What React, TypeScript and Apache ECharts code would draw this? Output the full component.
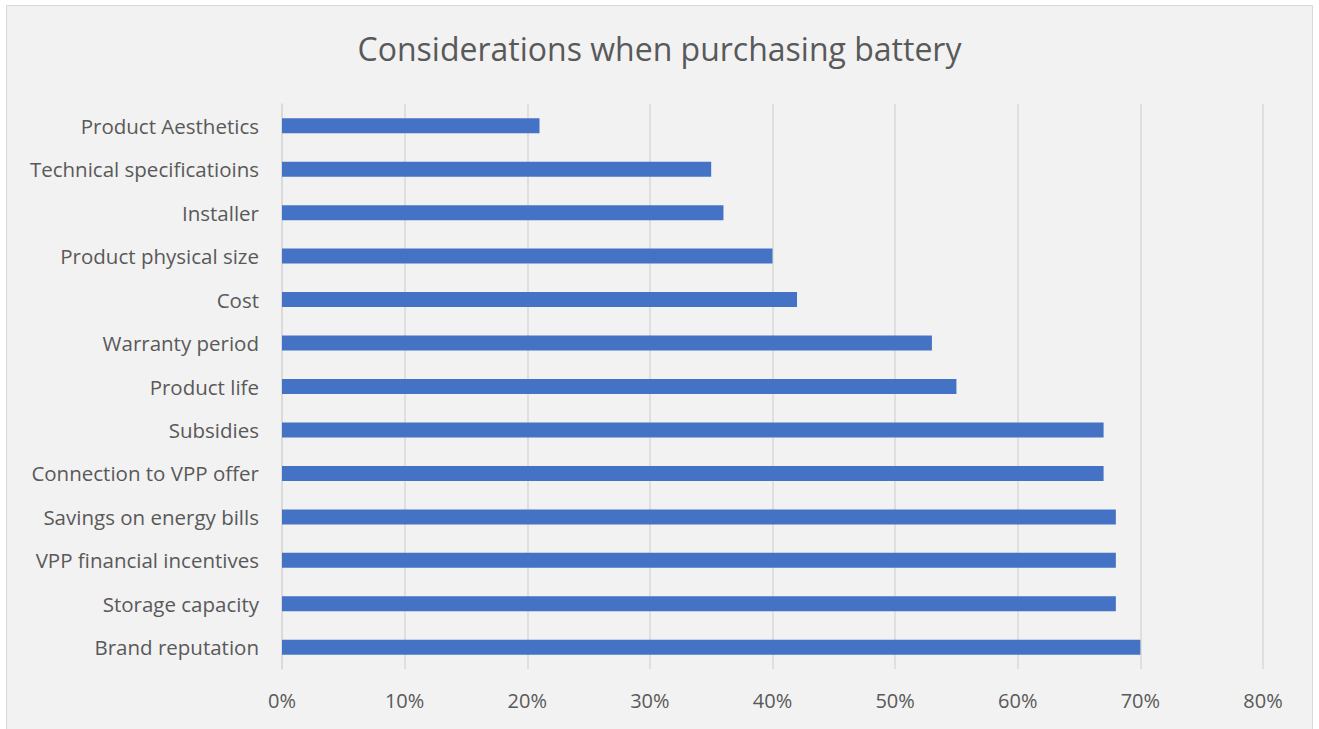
import React, { useEffect, useRef } from "react";
import * as echarts from "echarts";

const categories = [
  "Brand reputation",
  "Storage capacity",
  "VPP financial incentives",
  "Savings on energy bills",
  "Connection to VPP offer",
  "Subsidies",
  "Product life",
  "Warranty period",
  "Cost",
  "Product physical size",
  "Installer",
  "Technical specificatioins",
  "Product Aesthetics",
];
const values = [70, 68, 68, 68, 67, 67, 55, 53, 42, 40, 36, 35, 21];
const titleText = "Considerations when purchasing battery";

export default function App() {
  const ref = useRef<HTMLDivElement>(null);
  useEffect(() => {
    if (!ref.current) return;
    const chart = echarts.init(ref.current, undefined, { renderer: "svg" });
    const font = "'Open Sans', 'Noto Sans', sans-serif";
    chart.setOption({
      animation: false,
      backgroundColor: "#ffffff",
      graphic: [
        {
          type: "rect",
          z: -10,
          silent: true,
          shape: { x: 6.5, y: 5.5, width: 1306, height: 740 },
          style: { fill: "#f2f2f2", stroke: "#d9d9d9", lineWidth: 1 },
        },
      ],
      title: {
        text: titleText,
        left: "center",
        top: 27,
        textStyle: {
          fontFamily: font,
          fontSize: 32,
          fontWeight: "normal",
          color: "#595959",
        },
      },
      grid: { left: 282, right: 56, top: 104, bottom: 60, containLabel: false },
      xAxis: {
        type: "value",
        min: 0,
        max: 80,
        interval: 10,
        axisLine: { show: false },
        axisTick: { show: false },
        splitLine: { show: true, lineStyle: { color: "#d9d9d9", width: 1.5 } },
        axisLabel: {
          formatter: "{value}%",
          fontFamily: font,
          fontSize: 20,
          color: "#595959",
          margin: 21,
        },
      },
      yAxis: {
        type: "category",
        data: categories,
        axisLine: { show: true, lineStyle: { color: "#d9d9d9", width: 1.5 } },
        axisTick: { show: false },
        axisLabel: {
          fontFamily: font,
          fontSize: 20.5,
          color: "#595959",
          margin: 23,
        },
      },
      series: [
        {
          type: "bar",
          data: values,
          barWidth: 15,
          itemStyle: { color: "#4472c4" },
        },
      ],
    });
    return () => chart.dispose();
  }, []);
  return (
    <div
      ref={ref}
      style={{ position: "absolute", left: 0, top: 0, width: 1319, height: 729 }}
    />
  );
}
